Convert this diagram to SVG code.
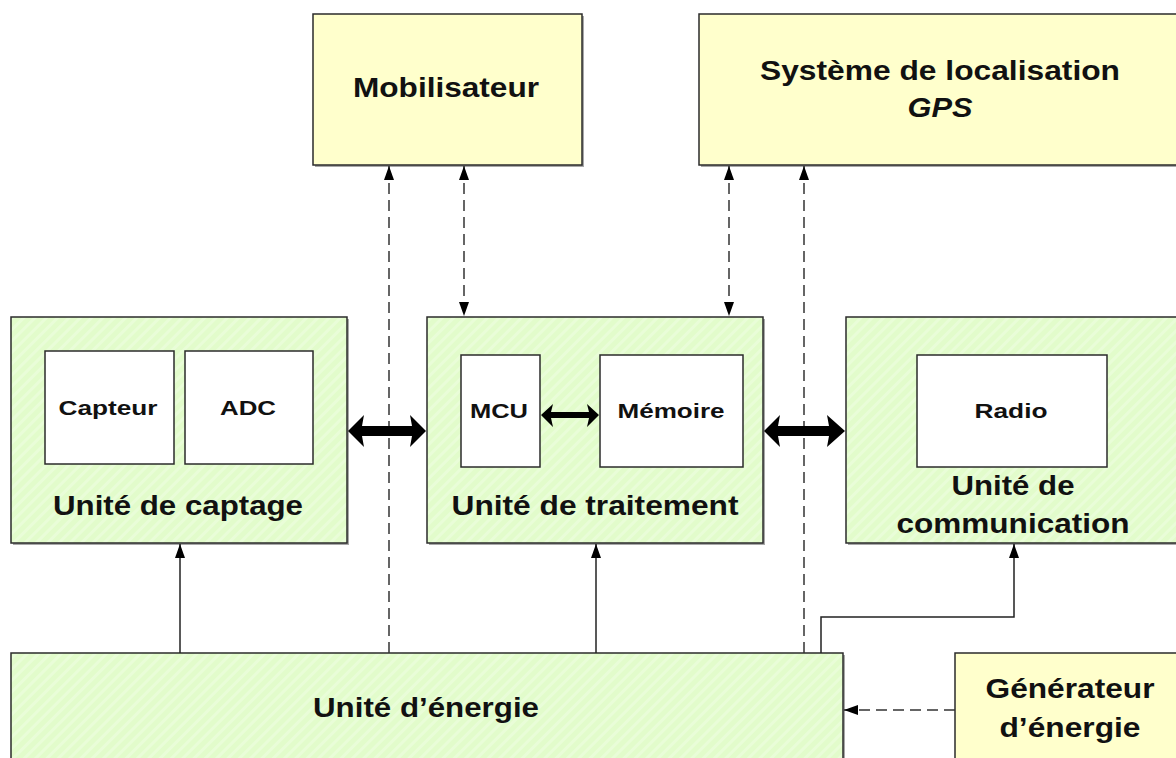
<svg xmlns="http://www.w3.org/2000/svg" width="1176" height="758" viewBox="0 0 1176 758">
<style>
.box{stroke:#2b2b2b;stroke-width:1.5}
.yel{fill:#FFFFCC}
.grn{fill:url(#hatch)}
.in{fill:#ffffff;stroke:#2b2b2b;stroke-width:1.5}
.sh{fill:#a8a8a8}
.t{font-family:"Liberation Sans",Arial,sans-serif;font-weight:bold;fill:#111;text-anchor:middle}
.big{font-size:28px}
.sm{font-size:21px}
.ln{fill:none;stroke:#222;stroke-width:1.5}
.da{fill:none;stroke:#333;stroke-width:1.5;stroke-dasharray:11 6}
.thick{fill:#000}
</style>
<defs>
<pattern id="hatch" patternUnits="userSpaceOnUse" width="8" height="8" patternTransform="rotate(-45)">
<rect width="8" height="8" fill="#E2FCCB"/>
<rect width="8" height="3" fill="#E9FDD8"/>
</pattern>
<marker id="ah" markerUnits="userSpaceOnUse" markerWidth="14" markerHeight="10" viewBox="0 0 14 10" refX="14" refY="5" orient="auto-start-reverse">
<path d="M0,0 L14,5 L0,10 Z" fill="#000"/>
</marker>
</defs>

<g id="mobilisateur">
<rect class="sh" x="315" y="16" width="269" height="151"/>
<rect class="box yel" x="313" y="14" width="269" height="151"/>
<text class="t big" x="446" y="97" textLength="186" lengthAdjust="spacingAndGlyphs">Mobilisateur</text>
</g>

<g id="gps">
<rect class="sh" x="701" y="16" width="490" height="151"/>
<rect class="box yel" x="699" y="14" width="490" height="151"/>
<text class="t big" x="940" y="80" textLength="360" lengthAdjust="spacingAndGlyphs">Système de localisation</text>
<text class="t big" x="940" y="117" font-style="italic" textLength="65" lengthAdjust="spacingAndGlyphs">GPS</text>
</g>

<g id="captage">
<rect class="sh" x="13" y="319" width="336" height="226"/>
<rect class="box grn" x="11" y="317" width="336" height="226"/>
<g id="capteur">
<rect class="in" x="45" y="351" width="129" height="113"/>
<text class="t sm" x="108" y="415" textLength="99" lengthAdjust="spacingAndGlyphs">Capteur</text>
</g>
<g id="adc">
<rect class="in" x="185" y="351" width="128" height="113"/>
<text class="t sm" x="248" y="415" textLength="56" lengthAdjust="spacingAndGlyphs">ADC</text>
</g>
<text class="t big" x="178" y="515" textLength="250" lengthAdjust="spacingAndGlyphs">Unité de captage</text>
</g>

<g id="traitement">
<rect class="sh" x="429" y="319" width="336" height="226"/>
<rect class="box grn" x="427" y="317" width="336" height="226"/>
<g id="mcu">
<rect class="in" x="461" y="355" width="79" height="112"/>
<text class="t sm" x="499" y="418" textLength="58" lengthAdjust="spacingAndGlyphs">MCU</text>
</g>
<g id="memoire">
<rect class="in" x="600" y="355" width="143" height="112"/>
<text class="t sm" x="671" y="418" textLength="107" lengthAdjust="spacingAndGlyphs">Mémoire</text>
</g>
<text class="t big" x="595" y="515" textLength="287" lengthAdjust="spacingAndGlyphs">Unité de traitement</text>
</g>

<g id="communication">
<rect class="sh" x="848" y="319" width="340" height="226"/>
<rect class="box grn" x="846" y="317" width="340" height="226"/>
<g id="radio">
<rect class="in" x="917" y="355" width="190" height="112"/>
<text class="t sm" x="1011" y="418" textLength="73" lengthAdjust="spacingAndGlyphs">Radio</text>
</g>
<text class="t big" x="1013" y="495" textLength="123" lengthAdjust="spacingAndGlyphs">Unité de</text>
<text class="t big" x="1013" y="533" textLength="233" lengthAdjust="spacingAndGlyphs">communication</text>
</g>

<g id="energie">
<rect class="sh" x="13" y="655" width="832" height="120"/>
<rect class="box grn" x="11" y="653" width="832" height="120"/>
<text class="t big" x="426" y="717" textLength="226" lengthAdjust="spacingAndGlyphs">Unité d’énergie</text>
</g>

<g id="generateur">
<rect class="sh" x="957" y="655" width="230" height="120"/>
<rect class="box yel" x="955" y="653" width="230" height="120"/>
<text class="t big" x="1070" y="698" textLength="169" lengthAdjust="spacingAndGlyphs">Générateur</text>
<text class="t big" x="1070" y="737" textLength="141" lengthAdjust="spacingAndGlyphs">d’énergie</text>
</g>

<g id="connectors">
<line class="ln" x1="180" y1="653" x2="180" y2="544" marker-end="url(#ah)"/>
<line class="ln" x1="596" y1="653" x2="596" y2="544" marker-end="url(#ah)"/>
<polyline class="ln" points="821,653 821,617 1014,617 1014,544" marker-end="url(#ah)"/>
<line class="da" x1="389" y1="653" x2="389" y2="166" marker-end="url(#ah)"/>
<line class="da" x1="804" y1="653" x2="804" y2="166" marker-end="url(#ah)"/>
<line class="da" x1="464" y1="166" x2="464" y2="316" marker-start="url(#ah)" marker-end="url(#ah)"/>
<line class="da" x1="729" y1="166" x2="729" y2="316" marker-start="url(#ah)" marker-end="url(#ah)"/>
<line class="da" x1="955" y1="710" x2="844" y2="710" marker-end="url(#ah)"/>
<polygon class="thick" points="348,431 364,415 362,426 412,426 410,415 426,431 410,447 412,436 362,436 364,447"/>
<polygon class="thick" points="764,431 780,415 778,426 829,426 827,415 845,431 827,447 829,436 778,436 780,447"/>
<polygon class="thick" points="541,415 553,404 551,412 589,412 587,404 599,415 587,427 589,418 551,418 553,427"/>
</g>
</svg>
